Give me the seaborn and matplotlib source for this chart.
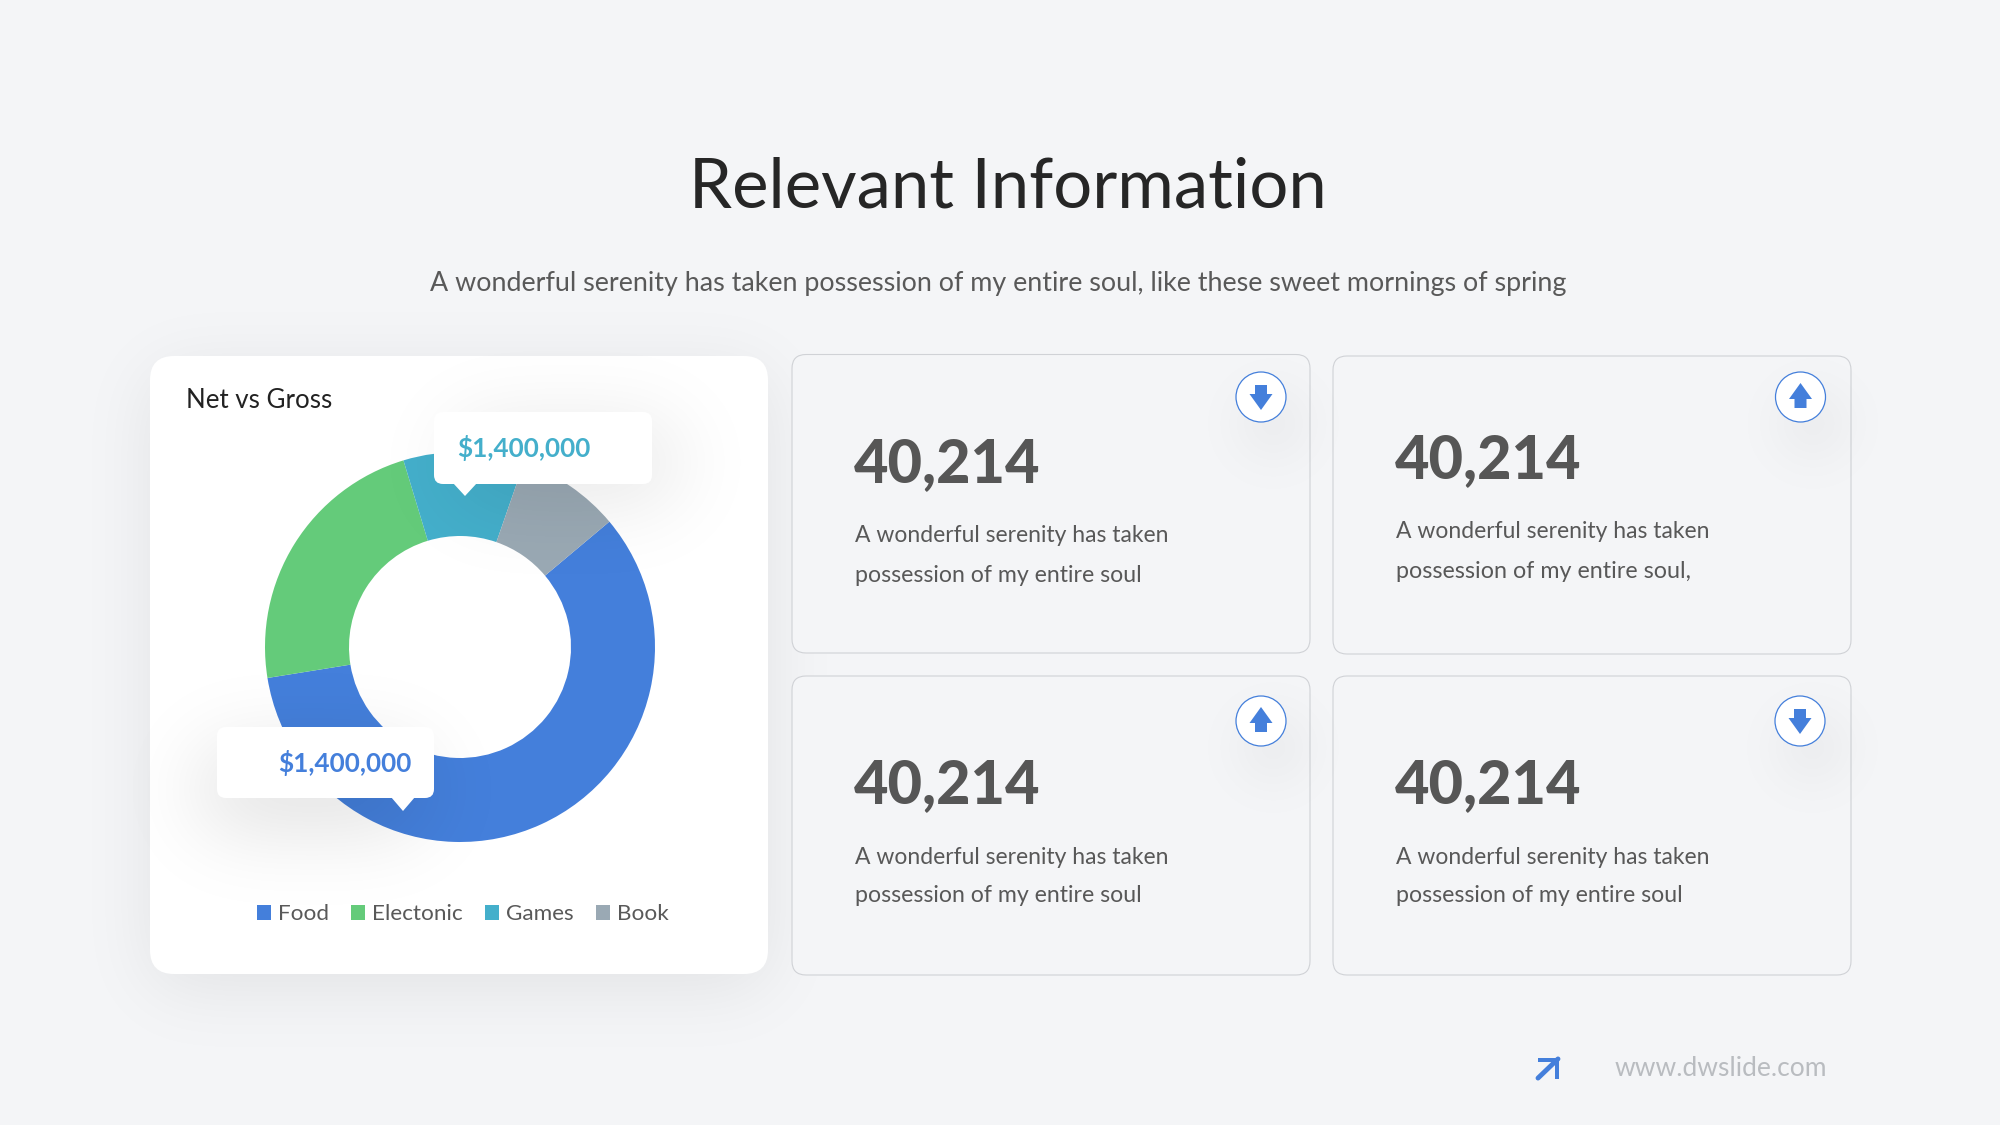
import numpy as np
import matplotlib
matplotlib.use("Agg")
import matplotlib.pyplot as plt
from matplotlib.patches import FancyBboxPatch, Circle, Polygon
import seaborn as sns

# ---- data ----
categories = ["Food", "Electonic", "Games", "Book"]
values = [8.2, 3.2, 1.4, 1.2]
colors = ["#447FDB", "#64CB7A", "#44AFCB", "#9AA9B4"]
chart_title = "Net vs Gross"
callouts = ["$1,400,000", "$1,400,000"]
card_numbers = ["40,214", "40,214", "40,214", "40,214"]
card_line1 = ["A wonderful serenity has taken"] * 4
card_line2 = ["possession of my entire soul", "possession of my entire soul,",
              "possession of my entire soul", "possession of my entire soul"]
card_dirs = ["down", "up", "up", "down"]
title = "Relevant Information"
subtitle = "A wonderful serenity has taken possession of my entire soul, like these sweet mornings of spring"
site = "www.dwslide.com"

BG = "#F4F5F7"
W, H = 2000, 1125
sns.set_theme(style="white")
plt.rcParams["font.family"] = ["Lato", "DejaVu Sans"]
palette = sns.color_palette(colors)

fig = plt.figure(figsize=(20, 11.25), dpi=100, facecolor=BG)


def layer(z):
    a = fig.add_axes([0, 0, 1, 1], zorder=z)
    a.set_xlim(0, W)
    a.set_ylim(H, 0)
    a.axis("off")
    a.patch.set_alpha(0)
    return a


YY, XX = np.mgrid[0:H, 0:W]
KX = np.fft.fftfreq(W)[None, :]
KY = np.fft.fftfreq(H)[:, None]


def shadow(a, x0, y0, x1, y1, r, sigma, dx, dy, op, z=1):
    cx, cy = (x0 + x1) / 2 + dx, (y0 + y1) / 2 + dy
    hw, hh = (x1 - x0) / 2 - r, (y1 - y0) / 2 - r
    qx = np.maximum(np.abs(XX - cx) - hw, 0)
    qy = np.maximum(np.abs(YY - cy) - hh, 0)
    m = (np.hypot(qx, qy) <= r).astype(float)
    g = np.exp(-2 * (np.pi * sigma) ** 2 * (KX ** 2 + KY ** 2))
    m = np.fft.ifft2(np.fft.fft2(m) * g).real.clip(0, 1)
    rgba = np.zeros((H, W, 4))
    rgba[..., 3] = m * op
    a.imshow(rgba, extent=(0, W, H, 0), aspect="auto", interpolation="nearest", zorder=z)
    a.set_xlim(0, W)
    a.set_ylim(H, 0)


def rbox(a, x0, y0, x1, y1, r, fc, ec="none", lw=0, z=3):
    a.add_patch(FancyBboxPatch((x0 + r, y0 + r), x1 - x0 - 2 * r, y1 - y0 - 2 * r,
                               boxstyle=f"round,pad={r},rounding_size={r}",
                               fc=fc, ec=ec, lw=lw, zorder=z))


def fit(a, x0, x1, y, s, size, color, weight="normal", va="center", ha="left"):
    """Text whose font size is tuned to span x0..x1 pixels."""
    t = a.text(x0 if ha == "left" else (x0 + x1) / 2, y, s, fontsize=size, color=color,
               fontweight=weight, va=va, ha=ha, zorder=6)
    rend = fig.canvas.get_renderer()
    t.set_fontsize(size * (x1 - x0) / t.get_window_extent(rend).width)
    return t


back = layer(1)
# white chart card
shadow(back, 150, 356, 768, 974, 22, 36, 0, 14, 0.075)
rbox(back, 150, 356, 768, 974, 24, "white")

# stat cards
cards = [(792, 354.5, 1310, 653), (1333, 356, 1851, 654), (792, 676, 1310, 975), (1333, 676, 1851, 975)]
text_x = [855, 1396, 855, 1396]
num_base = [482, 478, 803, 803]
l1_y = [535.5, 531.5, 857.5, 857.5]
l2_y = [575, 571, 896, 896]
line2_w = [287, 293, 287, 287]
icon_c = [(1261, 397), (1800.5, 397), (1261, 721), (1800, 721)]
for c, ic in zip(cards, icon_c):
    rbox(back, *c, 14, BG, "#D0D2D6", 0.8, z=2)
    shadow(back, ic[0] - 25, ic[1] - 25, ic[0] + 25, ic[1] + 25, 25, 30, 12, 26, 0.10, z=3)

for i, c in enumerate(cards):
    ic = icon_c[i]
    back.add_patch(Circle(ic, 25, fc="white", ec=colors[0], lw=0.9, zorder=4))
    s = 1 if card_dirs[i] == "down" else -1
    cy = ic[1] + (0 if s == 1 else -1)
    pts = [(-6, -12), (6, -12), (6, -3), (11.5, -3), (0, 13), (-11.5, -3), (-6, -3)]
    back.add_patch(Polygon([(ic[0] + px, cy + s * py) for px, py in pts], closed=True,
                           fc=colors[0], ec="none", zorder=5))
    fit(back, text_x[i] - 1, text_x[i] + 186, num_base[i], card_numbers[i], 44, "#565656", 900, "baseline")
    fit(back, text_x[i], text_x[i] + 313, l1_y[i], card_line1[i], 18, "#585858")
    fit(back, text_x[i], text_x[i] + line2_w[i], l2_y[i], card_line2[i], 18, "#585858")

fit(back, 689, 1327, 188, title, 50, "#262626")
fit(back, 430, 1570, 283, subtitle, 20, "#595959")
fit(back, 186, 332, 400.5, chart_title, 20, "#222222")
fit(back, 1615, 1827, 1069, site, 24, "#B9BCC0")

# footer arrow
back.annotate("", xy=(1560, 1057), xytext=(1536, 1080),
              arrowprops=dict(arrowstyle="-", color=colors[0], lw=3.5), zorder=5)
back.add_patch(Polygon([(1538, 1058), (1559, 1058), (1559, 1079), (1555, 1079), (1555, 1062), (1538, 1062)],
                       closed=True, fc=colors[0], ec="none", zorder=5))

# donut
cx, cy, R, r_in = 460, 647, 195, 111
ax = fig.add_axes([(cx - R) / W, 1 - (cy + R) / H, 2 * R / W, 2 * R / H], zorder=2)
ax.patch.set_alpha(0)
wedges, _ = ax.pie(values, colors=palette, startangle=40, counterclock=False, radius=1,
                   wedgeprops=dict(width=1 - r_in / R, linewidth=0))
ax.set_xlim(-1, 1)
ax.set_ylim(-1, 1)
fs = 16.2
leg = ax.legend(wedges, categories, ncol=4, loc="center",
                bbox_to_anchor=(463 / W, 1 - 914.5 / H), bbox_transform=fig.transFigure,
                frameon=False, fontsize=fs, labelcolor="#595959",
                handlelength=10.2 / fs, handleheight=10.2 / fs, handletextpad=5 / fs,
                columnspacing=16 / fs, borderpad=0, borderaxespad=0)

# callouts above the donut
top = layer(3)
teal_box = (434, 412, 652, 484)
blue_box = (217, 727, 434, 798)
shadow(top, *teal_box, 8, 42, 22, 14, 0.11)
shadow(top, *blue_box, 8, 42, -14, 26, 0.14)
rbox(top, *teal_box, 9, "white")
rbox(top, *blue_box, 9, "white")
top.add_patch(Polygon([(453, 483), (477, 483), (465, 496)], closed=True, fc="white", ec="none", zorder=4))
top.add_patch(Polygon([(391, 797), (415, 797), (403, 811)], closed=True, fc="white", ec="none", zorder=4))
fit(top, 457, 591.5, 448, callouts[0], 20, colors[2], "bold")
fit(top, 278, 412.5, 763, callouts[1], 20, colors[0], "bold")

fig.savefig("out.png", dpi=100, facecolor=BG)
